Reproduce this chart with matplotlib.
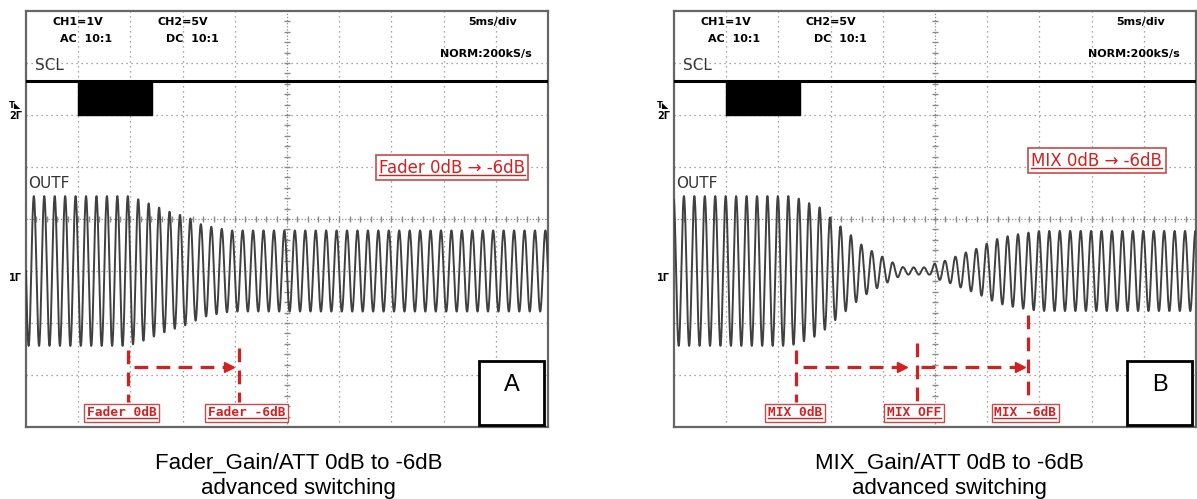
import numpy as np
import matplotlib
matplotlib.use("Agg")
import matplotlib.pyplot as plt
from matplotlib.lines import Line2D
from matplotlib.patches import Rectangle

# ---- data (screen units: x in divisions 0..10, y in divisions -4..4) ----
cycles_per_div = 5          # 1 kHz tone at 5 ms/div
trace_center = -1.0

# envelope of OUTF (half peak-to-peak, divisions)
a_env_x = [0, 1.95, 2.15, 2.35, 2.55, 2.75, 2.95, 3.15, 3.35, 3.55, 3.75, 3.95, 10]
a_env_amp = [1.44, 1.44, 1.38, 1.30, 1.22, 1.14, 1.08, 1.01, 0.90, 0.85, 0.81, 0.78, 0.78]
a_phase = 0.15

b_env_x = [0, 2.2, 2.4, 2.6, 2.8, 3.0, 3.2, 3.4, 3.6, 3.8, 4.0, 4.2, 4.4, 4.9,
           5.0, 5.2, 5.4, 5.6, 5.8, 6.0, 6.2, 6.4, 6.6, 6.8, 7.0, 10]
b_env_amp = [1.44, 1.44, 1.39, 1.30, 1.22, 1.02, 0.85, 0.68, 0.50, 0.38, 0.27, 0.16, 0.07, 0.07,
             0.15, 0.20, 0.28, 0.36, 0.43, 0.53, 0.62, 0.67, 0.71, 0.74, 0.77, 0.77]
b_phase = 0.19

# SCL channel: idle level and burst
scl_high = 2.65
scl_low = 2.0
burst_start, burst_end = 1.0, 2.41

header = [("CH1=1V", 0.51, 3.73), ("AC  10:1", 0.65, 3.40), ("CH2=5V", 2.51, 3.73),
          ("DC  10:1", 2.68, 3.40), ("5ms/div", 8.47, 3.73), ("NORM:200kS/s", 7.94, 3.115)]

a_marks = [(1.95, -2.52), (4.08, -2.48)]
a_arrows = [(2.06, 3.98)]
a_labels = [("Fader 0dB", 1.835), ("Fader -6dB", 4.23)]
a_title = ("Fader 0dB \u2192 -6dB", 8.16, 0.99)

b_marks = [(2.33, -2.52), (4.65, -2.38), (6.79, -1.85)]
b_arrows = [(2.48, 4.45), (4.74, 6.72)]
b_labels = [("MIX 0dB", 2.32), ("MIX OFF", 4.6), ("MIX -6dB", 6.73)]
b_title = ("MIX 0dB \u2192 -6dB", 8.10, 1.125)

captions = [("Fader_Gain/ATT 0dB to -6dB", "advanced switching", 0.2494),
            ("MIX_Gain/ATT 0dB to -6dB", "advanced switching", 0.7928)]

RED = "#d42020"
GRID = "#8a8a8a"

fig = plt.figure(figsize=(11.97, 4.99), dpi=100)
ax_a = fig.add_axes([26 / 1197, 72 / 499, 522 / 1197, 416 / 499])
ax_b = fig.add_axes([674 / 1197, 72 / 499, 522 / 1197, 416 / 499])

underlined = []


def scope(ax, env_x, env_amp, phase, marks, arrows, labels, title, corner):
    ax.set_xlim(0, 10)
    ax.set_ylim(-4, 4)
    ax.set_xticks([])
    ax.set_yticks([])
    for s in ax.spines.values():
        s.set_color("#666666")
        s.set_linewidth(1.6)

    # graticule
    for i in range(1, 10):
        if i != 5:
            ax.axvline(i, color=GRID, lw=0.9, ls=(0, (1, 3)), zorder=1)
    for j in range(-3, 4):
        if j != 0:
            ax.axhline(j, color=GRID, lw=0.9, ls=(0, (1, 3)), zorder=1)
    ax.axvline(5, color=GRID, lw=0.9, ls=(0, (1, 1.5)), zorder=1)
    ax.axhline(0, color=GRID, lw=0.9, ls=(0, (1, 1.5)), zorder=1)
    tx = np.arange(0.2, 10, 0.2)
    ty = np.arange(-3.8, 4, 0.2)
    ax.plot(tx, np.zeros_like(tx), ls="none", marker="|", ms=4, color=GRID, zorder=1)
    ax.plot(np.full_like(ty, 5), ty, ls="none", marker="_", ms=4, color=GRID, zorder=1)

    # SCL
    ax.plot([0, 10], [scl_high, scl_high], color="black", lw=2.2, zorder=3)
    ax.fill_between([burst_start, burst_end], scl_low, scl_high, color="black", zorder=3)

    # OUTF
    x = np.linspace(0, 10, 8001)
    env = np.interp(x, env_x, env_amp)
    y = trace_center + env * np.cos(2 * np.pi * cycles_per_div * (x - phase))
    ax.plot(x, y, color="#404040", lw=1.4, zorder=3)

    # screen text
    for txt, hx, hy in header:
        ax.text(hx, hy, txt, fontsize=8, fontweight="bold", va="baseline", zorder=4)
    ax.text(0.17, 2.865, "SCL", fontsize=11, color="#333333", va="baseline", zorder=4)
    ax.text(0.05, 0.596, "OUTF", fontsize=11, color="#333333", va="baseline", zorder=4)
    ax.text(-0.32, 2.2, "T\u25e3", fontsize=6, fontweight="bold", va="center", clip_on=False)
    ax.text(-0.32, 1.98, "2\u0393", fontsize=7, fontweight="bold", va="center", clip_on=False)
    ax.text(-0.32, -1.13, "1\u0393", fontsize=7, fontweight="bold", va="center", clip_on=False)

    # red annotations
    dash = (0, (4.3, 2.6))
    for mx, mtop in marks:
        ax.plot([mx, mx], [mtop, -3.51], color=RED, lw=2.3, ls=dash, zorder=5)
    for x0, x1 in arrows:
        ax.plot([x0, x1 - 0.12], [-2.84, -2.84], color=RED, lw=2.3, ls=dash, zorder=5)
        ax.plot(x1 - 0.09, -2.84, marker=">", ms=7, color=RED, mec=RED, zorder=5)
    for txt, lx in labels:
        t = ax.text(lx, -3.73, txt, fontsize=9.3, family="DejaVu Sans Mono", fontweight="bold",
                    color=RED, ha="center", va="center", zorder=6,
                    bbox=dict(boxstyle="square,pad=0.2", fc="white", ec="#c84a4a", lw=1))
        underlined.append(t)
    t = ax.text(title[1], title[2], title[0], fontsize=12, color=RED, ha="center", va="center",
                zorder=6, bbox=dict(boxstyle="square,pad=0.2", fc="white", ec="#c84a4a", lw=1.2))
    underlined.append(t)

    ax.add_patch(Rectangle((8.68, -3.96), 1.25, 1.22, fc="white", ec="black", lw=2, zorder=7))
    ax.text(9.305, -3.2, corner, fontsize=17, family="Liberation Sans", ha="center",
            va="center", zorder=8)


scope(ax_a, a_env_x, a_env_amp, a_phase, a_marks, a_arrows, a_labels, a_title, "A")
scope(ax_b, b_env_x, b_env_amp, b_phase, b_marks, b_arrows, b_labels, b_title, "B")

for l1, l2, cx in captions:
    fig.text(cx, 0.060, l1, fontsize=16, family="Liberation Sans", ha="center", va="baseline")
    fig.text(cx, 0.011, l2, fontsize=16, family="Liberation Sans", ha="center", va="baseline")

# underline the red labels
fig.canvas.draw()
r = fig.canvas.get_renderer()
inv = fig.transFigure.inverted()
for t in underlined:
    bb = t.get_window_extent(r)
    (x0, y0), (x1, _) = inv.transform([(bb.x0, bb.y0 + 1.5), (bb.x1, bb.y1)])
    fig.add_artist(Line2D([x0, x1], [y0, y0], transform=fig.transFigure, color=RED, lw=1))

fig.savefig("out.png", dpi=100)
